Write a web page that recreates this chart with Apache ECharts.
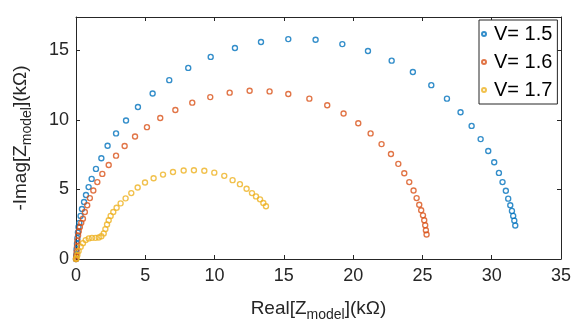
<!DOCTYPE html>
<html>
<head>
<meta charset="utf-8">
<script src="https://cdn.jsdelivr.net/npm/echarts@6/dist/echarts.min.js"></script>
<style>
  html, body { margin: 0; padding: 0; background: #fff; }
  #chart { width: 576px; height: 327px; }
</style>
</head>
<body>
<div id="chart"></div>
<script>
// V = 1.5
const re15 = [0, 0.02, 0.04, 0.07, 0.1, 0.14, 0.18, 0.24, 0.33, 0.43, 0.58, 0.72, 0.91, 1.13, 1.44, 1.83, 2.28, 2.89, 3.61, 4.47, 5.53, 6.73, 8.1, 9.72, 11.47, 13.35, 15.32, 17.29, 19.22, 21.07, 22.78, 24.31, 25.64, 26.77, 27.75, 28.55, 29.2, 29.75, 30.18, 30.52, 30.78, 31.02, 31.19, 31.34, 31.46, 31.55, 31.63, 31.7]
const im15 = [0, 0.3, 0.7, 1.1, 1.5, 1.9, 2.3, 2.6, 3.1, 3.6, 4.1, 4.6, 5.17, 5.76, 6.48, 7.24, 8.14, 9.03, 9.96, 10.93, 11.9, 12.86, 13.74, 14.53, 15.17, 15.6, 15.81, 15.76, 15.45, 14.95, 14.26, 13.45, 12.5, 11.53, 10.55, 9.57, 8.62, 7.76, 6.96, 6.19, 5.53, 4.91, 4.34, 3.86, 3.46, 3.1, 2.76, 2.41]
// V = 1.6
const re16 = [0, 0.02, 0.04, 0.07, 0.1, 0.15, 0.2, 0.28, 0.38, 0.5, 0.64, 0.81, 1.0, 1.25, 1.54, 1.9, 2.36, 2.89, 3.51, 4.26, 5.12, 6.08, 7.17, 8.39, 9.69, 11.09, 12.53, 13.97, 15.32, 16.84, 18.13, 19.31, 20.37, 21.26, 22.05, 22.73, 23.26, 23.69, 24.05, 24.36, 24.58, 24.77, 24.91, 25.04, 25.13, 25.2, 25.25, 25.3]
const im16 = [0, 0.2, 0.5, 0.9, 1.3, 1.7, 2.0, 2.3, 2.6, 2.9, 3.38, 3.86, 4.38, 4.93, 5.53, 6.12, 6.76, 7.43, 8.12, 8.81, 9.48, 10.14, 10.71, 11.24, 11.64, 11.96, 12.1, 12.05, 11.86, 11.53, 11.05, 10.46, 9.76, 9.03, 8.26, 7.55, 6.84, 6.17, 5.53, 4.93, 4.38, 3.9, 3.5, 3.14, 2.79, 2.43, 2.07, 1.76]
// V = 1.7
const re17 = [0, 0.05, 0.1, 0.19, 0.34, 0.5, 0.7, 0.92, 1.15, 1.4, 1.64, 1.83, 2.0, 2.12, 2.24, 2.36, 2.5, 2.69, 2.93, 3.22, 3.58, 3.99, 4.45, 4.98, 5.6, 6.28, 7.0, 7.77, 8.51, 9.26, 9.98, 10.7, 11.3, 11.83, 12.31, 12.7, 12.99, 13.28, 13.52, 13.71]
const im17 = [0, 0.05, 0.29, 0.57, 0.88, 1.14, 1.36, 1.48, 1.52, 1.52, 1.55, 1.64, 1.84, 2.15, 2.48, 2.79, 3.1, 3.38, 3.69, 4.0, 4.36, 4.74, 5.14, 5.5, 5.81, 6.07, 6.26, 6.36, 6.38, 6.34, 6.21, 5.98, 5.67, 5.38, 5.05, 4.74, 4.5, 4.29, 4.03, 3.79]

const seriesNames = ['V= 1.5', 'V= 1.6', 'V= 1.7']
const seriesColors = ['#0072BD', '#D95319', '#EDB120']
const yTicks = [0, 5, 10, 15]

const font = 'Liberation Sans'
const axisColor = '#262626'

const pairs = (xs, ys) => xs.map((x, i) => [x, ys[i]])
const allData = [pairs(re15, im15), pairs(re16, im16), pairs(re17, im17)]

const chart = echarts.init(document.getElementById('chart'))

const baseX = {
    type: 'value', min: 0, max: 35, interval: 5,
    axisLine: { show: true, onZero: false, lineStyle: { color: axisColor, width: 1 } },
    axisTick: { show: true, inside: true, length: 4, lineStyle: { color: axisColor } },
    splitLine: { show: false }
}
const baseY = {
    type: 'value', min: 0, max: 17.4, interval: 5,
    axisLine: { show: true, onZero: false, lineStyle: { color: axisColor, width: 1 } },
    axisTick: { show: true, inside: true, length: 4, lineStyle: { color: axisColor } },
    splitLine: { show: false }
}

const nameRich = {
    a: { fontSize: 19, color: axisColor, fontFamily: font },
    b: { fontSize: 14, color: axisColor, fontFamily: font, padding: [13, 0, 0, 0] }
}

const option = {
    backgroundColor: '#fff',
    animation: false,
    textStyle: { fontFamily: font },
    grid: { left: 76, right: 15, top: 17, bottom: 66 },
    legend: {
        orient: 'vertical',
        left: 479, top: 20,
        data: seriesNames,
        backgroundColor: '#fff',
        borderColor: axisColor,
        borderWidth: 1,
        padding: [3, 5, 3, 2],
        itemWidth: 4, itemHeight: 4,
        itemGap: 6,
        textStyle: { fontFamily: font, fontSize: 20, color: '#000', lineHeight: 22, padding: [0, 0, 0, 3] }
    },
    xAxis: [
        Object.assign({}, baseX, {
            position: 'bottom',
            axisLabel: { color: axisColor, fontSize: 18, margin: 8, fontFamily: font },
            name: '{a|Real[Z}{b|model}{a|](kΩ)}',
            nameLocation: 'middle',
            nameGap: 36,
            nameTextStyle: { rich: nameRich }
        }),
        Object.assign({}, baseX, { position: 'top', axisLabel: { show: false } })
    ],
    yAxis: [
        Object.assign({}, baseY, {
            position: 'left',
            axisLabel: { color: axisColor, fontSize: 18, margin: 7, fontFamily: font,
                customValues: yTicks },
            name: '{a|-Imag[Z}{b|model}{a|](kΩ)}',
            nameLocation: 'middle',
            nameGap: 42,
            nameTextStyle: { rich: nameRich }
        }),
        Object.assign({}, baseY, { position: 'right', axisLabel: { show: false } })
    ],
    series: seriesNames.map((name, i) => ({
        name: name,
        type: 'scatter',
        xAxisIndex: 0,
        yAxisIndex: 0,
        symbol: 'circle',
        symbolSize: 5,
        itemStyle: { color: 'rgba(255,255,255,0)', borderColor: seriesColors[i], borderWidth: 1.4 },
        data: allData[i]
    }))
}

chart.setOption(option)
</script>
</body>
</html>
